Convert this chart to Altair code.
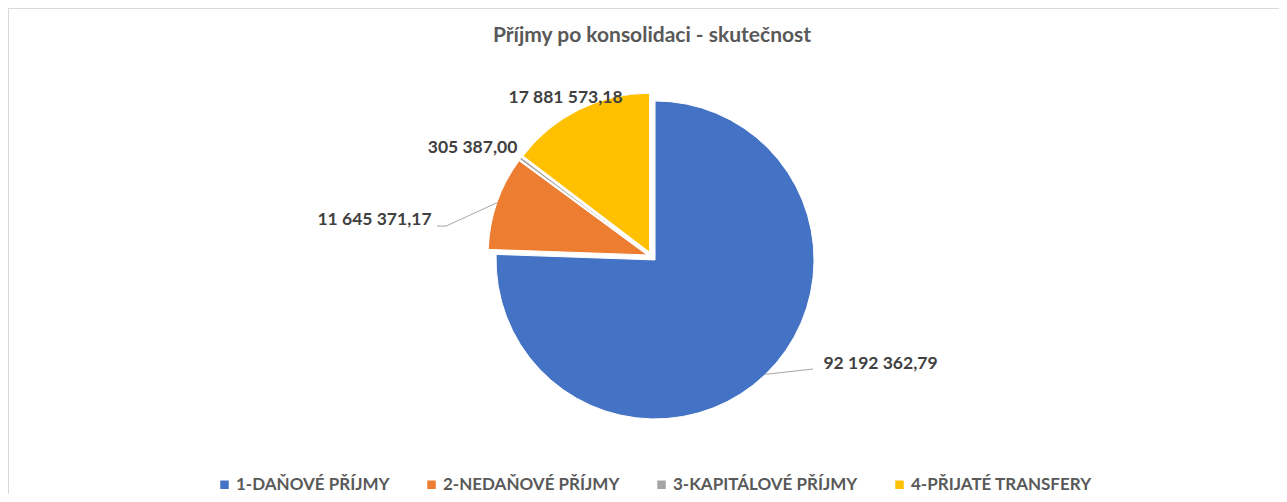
import altair as alt
import pandas as pd

categories = ["1-DAŇOVÉ PŘÍJMY", "2-NEDAŇOVÉ PŘÍJMY", "3-KAPITÁLOVÉ PŘÍJMY", "4-PŘIJATÉ TRANSFERY"]
values = [92192362.79, 11645371.17, 305387.00, 17881573.18]
value_labels = ["92 192 362,79", "11 645 371,17", "305 387,00", "17 881 573,18"]
colors = ["#4472C4", "#ED7D31", "#A5A5A5", "#FFC000"]
title_text = "Příjmy po konsolidaci - skutečnost"

df = pd.DataFrame({"idx": list(range(len(categories))), "category": categories,
                   "value": values, "label": value_labels})

# layout (plot-area pixels)
W, H = 1271, 444
PAD_TOP = 42
CX, CY = 643.7, 206.5
R = 159
D = 4.8  # explosion distance

# label placement relative to the slice's outer mid point
lab_dx = [115.0, -122.5, -48.0, -13.4]
lab_dy = [-10.8, 17.4, -10.4, -11.8]
elb_dx = [47.5, -51.0, 0, 0]
elb_dy = [-5.3, 23.4, 0, 0]
end_dx = [47.5, -60.0, 0, 0]

base = (
    alt.Chart(df)
    .transform_window(cum="sum(value)", sort=[alt.SortField("idx")], frame=[None, 0])
    .transform_joinaggregate(total="sum(value)")
    .transform_calculate(t0="2*PI*(datum.cum - datum.value)/datum.total")
    .transform_calculate(t1="2*PI*datum.cum/datum.total")
    .transform_calculate(mid="(datum.t0 + datum.t1)/2")
    .transform_calculate(px=f"{CX} + {D}*sin(datum.mid)")
    .transform_calculate(py=f"{CY} - {D}*cos(datum.mid)")
    .transform_calculate(ex=f"{CX} + {R + D}*sin(datum.mid)")
    .transform_calculate(ey=f"{CY} - {R + D}*cos(datum.mid)")
    .transform_calculate(lx=f"datum.ex + {lab_dx}[datum.idx]")
    .transform_calculate(ly=f"datum.ey + {lab_dy}[datum.idx]")
    .transform_calculate(bx=f"datum.ex + {elb_dx}[datum.idx]")
    .transform_calculate(by=f"datum.ey + {elb_dy}[datum.idx]")
    .transform_calculate(nx=f"datum.ex + {end_dx}[datum.idx]")
)

arcs = base.mark_arc(radius=R, stroke="white", strokeWidth=1).encode(
    x=alt.X("px:Q", scale=None, axis=None),
    y=alt.Y("py:Q", scale=None, axis=None),
    theta=alt.Theta("t0:Q", scale=None),
    theta2="t1:Q",
    color=alt.Color(
        "category:N",
        sort=categories,
        scale=alt.Scale(domain=categories, range=colors),
        legend=alt.Legend(
            orient="none", legendX=208, legendY=426, direction="horizontal",
            title=None, symbolType="square", symbolSize=72, symbolStrokeWidth=0,
            labelFont="Lato", labelFontSize=17, labelFontWeight="bold",
            labelColor="#595959", columnPadding=33, labelOffset=3, labelLimit=400,
        ),
    ),
)

leader1 = base.transform_filter("datum.idx <= 1").mark_rule(color="#a6a6a6", strokeWidth=1).encode(
    x=alt.X("ex:Q", scale=None, axis=None), y=alt.Y("ey:Q", scale=None, axis=None),
    x2="bx:Q", y2="by:Q",
)
leader2 = base.transform_filter("datum.idx <= 1").mark_rule(color="#a6a6a6", strokeWidth=1).encode(
    x=alt.X("bx:Q", scale=None, axis=None), y=alt.Y("by:Q", scale=None, axis=None),
    x2="nx:Q", y2="by:Q",
)

texts = base.mark_text(font="Lato", fontSize=17.5, fontWeight="bold", color="#404040",
                       align="center", baseline="middle").encode(
    x=alt.X("lx:Q", scale=None, axis=None),
    y=alt.Y("ly:Q", scale=None, axis=None),
    text="label:N",
)

frame_src = alt.Chart(pd.DataFrame({"a": [0]}))
border_top = frame_src.mark_rule(color="#d9d9d9", strokeWidth=1).encode(
    x=alt.value(0), x2=alt.value(W), y=alt.value(-PAD_TOP + 0.5))
border_left = frame_src.mark_rule(color="#d9d9d9", strokeWidth=1).encode(
    x=alt.value(0.5), y=alt.value(-PAD_TOP), y2=alt.value(H))

chart = (
    alt.layer(border_top, border_left, arcs, leader1, leader2, texts)
    .properties(
        width=W, height=H,
        autosize=alt.AutoSizeParams(type="none"),
        padding={"left": 0, "top": PAD_TOP, "right": 0, "bottom": 0},
        title=alt.TitleParams(text=title_text, font="Lato", fontSize=21, fontWeight="bold",
                              color="#595959", anchor="middle", dx=8.5, dy=46, offset=8),
    )
    .configure_view(stroke=None)
)

chart.save("out.html", embed_options={"renderer": "svg", "actions": False})
